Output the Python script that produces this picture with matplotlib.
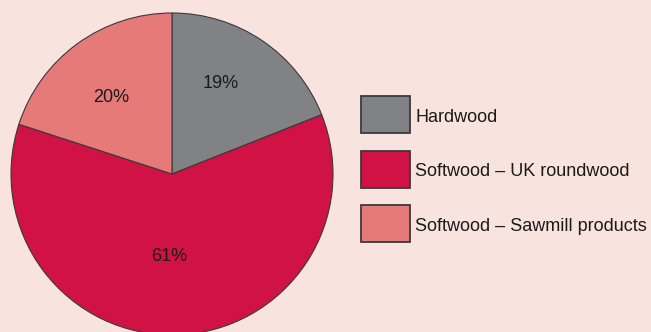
import numpy as np
import matplotlib.pyplot as plt
from matplotlib.patches import Rectangle

plt.rcParams['font.family'] = ['Liberation Sans', 'DejaVu Sans']

labels = ['Hardwood', 'Softwood – UK roundwood', 'Softwood – Sawmill products']
shares = [19, 61, 20]
colors = ['#808285', '#d01244', '#e57a79']
# label placement: distance from centre (pie radius = 1) and angle nudge (deg)
pct_r = [0.637, 0.51, 0.61]
pct_nudge = [5.6, -3.9, 2.4]

bg = '#f9e3df'
W, H = 651, 332
cx, cy, R = 172, 174, 161  # pie centre / radius in pixels (from top-left)

fig = plt.figure(figsize=(W / 100, H / 100), dpi=100, facecolor=bg)
ax = fig.add_axes([0, 0, 1, 1])
ax.set_facecolor(bg)

wedges, _ = ax.pie(shares, colors=colors, startangle=90, counterclock=False,
                   radius=1, wedgeprops=dict(edgecolor='#3a3a3a', linewidth=0.8))

for w, s, r, d in zip(wedges, shares, pct_r, pct_nudge):
    a = np.deg2rad((w.theta1 + w.theta2) / 2 + d)
    ax.text(r * np.cos(a), r * np.sin(a), f'{s}%', ha='center', va='center',
            fontsize=13, color='#1a1a1a')

ax.set_xlim(-cx / R, (W - cx) / R)
ax.set_ylim(-(H - cy) / R, cy / R)
ax.set_aspect('auto')
ax.axis('off')

# legend, laid out by hand in pixels
lx, ly, bw, bh, step = 361, 96, 49, 37, 54.5
for i, (lab, c) in enumerate(zip(labels, colors)):
    top = ly + i * step
    fig.add_artist(Rectangle((lx / W, 1 - (top + bh) / H), bw / W, bh / H,
                             transform=fig.transFigure, facecolor=c,
                             edgecolor='#3a3a3a', linewidth=1.3))
    fig.text((lx + bw + 5) / W, 1 - (top + 26) / H, lab, fontsize=13,
             va='baseline', ha='left', color='#1a1a1a')

fig.savefig('out.png', dpi=100, facecolor=bg)
